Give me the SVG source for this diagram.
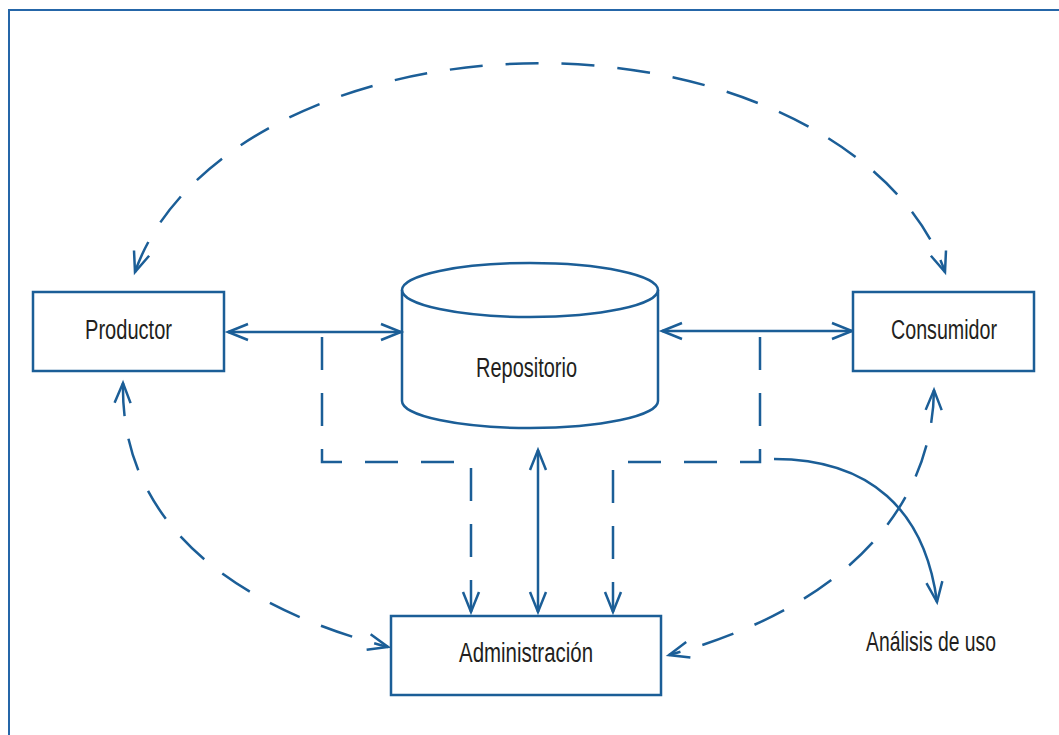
<svg xmlns="http://www.w3.org/2000/svg" width="1059" height="735" viewBox="0 0 1059 735">
<style>
.ln{fill:none;stroke:#1b5e97;stroke-width:2.5}
.ds{stroke-dasharray:33 23}
.box{fill:#fff;stroke:#1b5e97;stroke-width:2.5}
.lbl{font-family:"Liberation Sans",Arial,sans-serif;font-size:27px;fill:#231f20;text-anchor:middle}
</style>
<defs>
<marker id="ah" markerUnits="userSpaceOnUse" markerWidth="30" markerHeight="30" viewBox="-25 -15 30 30" refX="0" refY="0" orient="auto-start-reverse" overflow="visible">
<path d="M-20,-8 L0,0 L-20,8" fill="none" stroke="#1b5e97" stroke-width="2.5" stroke-dasharray="none"/>
</marker>
</defs>
<rect x="0" y="0" width="1059" height="735" fill="#fff"/>
<rect x="9" y="10" width="1100" height="800" fill="none" stroke="#2566a8" stroke-width="2"/>
<g id="connectors">
<path class="ln ds" d="M135,272 A415,267 0 0 1 945,272" marker-start="url(#ah)" marker-end="url(#ah)"/>
<path class="ln ds" d="M123,383 C120,530 245,610 388,647" marker-start="url(#ah)" marker-end="url(#ah)"/>
<path class="ln ds" d="M934,390 C932,515 835,610 669,655" marker-start="url(#ah)" marker-end="url(#ah)"/>
<path class="ln" d="M228,332 L401,332" marker-start="url(#ah)" marker-end="url(#ah)"/>
<path class="ln" d="M662,331 L852,331" marker-start="url(#ah)" marker-end="url(#ah)"/>
<path class="ln" d="M538,450 L538,612" marker-start="url(#ah)" marker-end="url(#ah)"/>
<path class="ln ds" d="M322,337 L322,462 L471,462 L471,612" marker-end="url(#ah)"/>
<path class="ln ds" d="M760,337 L760,462 L613,462 L613,612" marker-end="url(#ah)"/>
<path class="ln" d="M774,459 C870,459 925,510 937,602" marker-end="url(#ah)"/>
</g>
<g id="productor">
<rect class="box" x="33" y="292" width="191" height="79"/>
<text class="lbl" x="128.5" y="339" textLength="87" lengthAdjust="spacingAndGlyphs">Productor</text>
</g>
<g id="repositorio">
<path class="ln" d="M402,290 L402,401 A128,27 0 0 0 658,401 L658,290"/>
<ellipse class="ln" cx="530" cy="290" rx="128" ry="27"/>
<text class="lbl" x="526.5" y="377" textLength="101" lengthAdjust="spacingAndGlyphs">Repositorio</text>
</g>
<g id="consumidor">
<rect class="box" x="853" y="292" width="181" height="79"/>
<text class="lbl" x="944" y="339" textLength="106" lengthAdjust="spacingAndGlyphs">Consumidor</text>
</g>
<g id="administracion">
<rect class="box" x="391" y="616" width="270" height="79"/>
<text class="lbl" x="526" y="662" textLength="134" lengthAdjust="spacingAndGlyphs">Administración</text>
</g>
<g id="analisis">
<text class="lbl" x="931" y="651" textLength="130" lengthAdjust="spacingAndGlyphs">Análisis de uso</text>
</g>
</svg>
